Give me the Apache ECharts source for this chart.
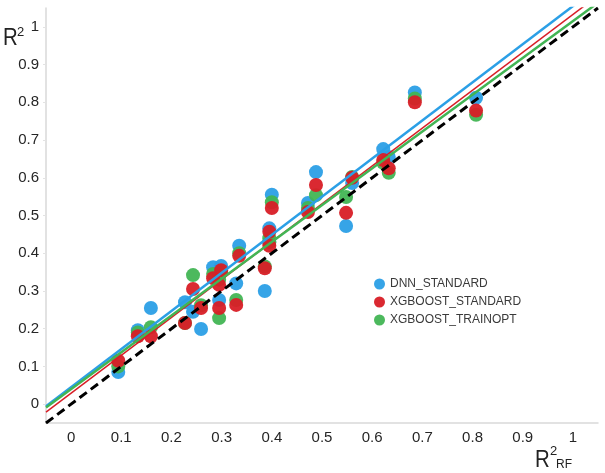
<!DOCTYPE html>
<html>
<head>
<meta charset="utf-8">
<script src="https://cdn.jsdelivr.net/npm/echarts@6/dist/echarts.min.js"></script>
<style>
html,body{margin:0;padding:0;background:#fff;}
#chart{width:605px;height:473px;}
</style>
</head>
<body>
<div id="chart"></div>
<script>
// RF R² (x) shared by all models
const rfR2 = [0.094,0.133,0.159,0.227,0.243,0.259,0.283,0.299,0.295,0.295,0.329,0.335,0.386,0.400,0.395,0.395,0.472,0.488,0.548,0.560,0.622,0.633,0.685,0.807];
const dnnStandard = [0.085,0.196,0.255,0.270,0.245,0.199,0.363,0.366,0.276,0.345,0.320,0.420,0.300,0.555,0.466,0.430,0.533,0.615,0.472,0.586,0.676,0.655,0.826,0.812];
const xgbStandard = [0.115,0.180,0.180,0.215,0.305,0.255,0.334,0.355,0.255,0.316,0.263,0.393,0.360,0.520,0.457,0.420,0.509,0.581,0.507,0.600,0.647,0.625,0.800,0.778];
const xgbTrainopt = [0.100,0.190,0.204,0.215,0.342,0.262,0.345,0.350,0.228,0.330,0.276,0.400,0.365,0.535,0.440,0.430,0.520,0.554,0.549,0.602,0.640,0.613,0.810,0.767];
// fitted lines (end points)
const lineX = [-0.05, 1.05];
const dnnFit = [-0.0055, 1.1055];
const xgbStdFit = [-0.021, 1.083];
const xgbTrainFit = [-0.009, 1.064];
const identity = [-0.05, 1.05];
// tick labels
const tickValues = [0,0.1,0.2,0.3,0.4,0.5,0.6,0.7,0.8,0.9,1];
const seriesNames = ['DNN_STANDARD','XGBOOST_STANDARD','XGBOOST_TRAINOPT'];

const colors = {blue:'#2b9fe6', red:'#d81e26', green:'#42b554'};
const pts = (ys) => rfR2.map((x,i)=>[x, ys[i]]);
const ln = (ys) => lineX.map((x,i)=>[x, ys[i]]);
const fmt = v => (Math.abs(v) < 1e-9 ? '0' : String(Math.round(v*10)/10));
const FF = 'Liberation Sans, Arial';

const chart = echarts.init(document.getElementById('chart'));
const axisCommon = {
  type:'value', min:-0.05, max:1.05,
  splitLine:{show:false},
  axisLine:{show:true, onZero:false, lineStyle:{color:'#d9d9d9', width:1.5}},
  axisLabel:{customValues:tickValues, formatter:fmt, color:'#262626', fontSize:15, fontFamily:FF}
};
chart.setOption({
  animation:false,
  backgroundColor:'#fff',
  grid:{left:46, right:7, top:8, bottom:50},
  xAxis: Object.assign({}, axisCommon, {
    axisTick:{show:false},
    axisLabel:Object.assign({}, axisCommon.axisLabel, {margin:7})
  }),
  yAxis: Object.assign({}, axisCommon, {
    axisTick:{show:true, customValues:tickValues, length:3, lineStyle:{color:'#e3e3e3'}},
    axisLabel:Object.assign({}, axisCommon.axisLabel, {margin:7})
  }),
  legend:{
    data:seriesNames, orient:'vertical', left:374, top:278, padding:0,
    itemWidth:11, itemHeight:11, itemGap:6, icon:'circle',
    textStyle:{fontSize:12, color:'#3a3a3a', fontFamily:FF}
  },
  graphic:[
    {type:'text', left:3, top:26, scaleX:0.85, style:{text:'R', fontSize:24, fill:'#222', fontFamily:FF}},
    {type:'text', left:17, top:26, style:{text:'2', fontSize:13, fill:'#222', fontFamily:FF}},
    {type:'text', left:535, top:448, scaleX:0.85, style:{text:'R', fontSize:24, fill:'#222', fontFamily:FF}},
    {type:'text', left:550, top:445, style:{text:'2', fontSize:13, fill:'#222', fontFamily:FF}},
    {type:'text', left:556, top:459, style:{text:'RF', fontSize:12, fill:'#222', fontFamily:FF}}
  ],
  series:[
    {name:seriesNames[0], type:'scatter', data:pts(dnnStandard), symbolSize:14, itemStyle:{color:colors.blue, opacity:0.95}, z:2},
    {name:seriesNames[2], type:'scatter', data:pts(xgbTrainopt), symbolSize:14, itemStyle:{color:colors.green, opacity:0.95}, z:3},
    {name:seriesNames[1], type:'scatter', data:pts(xgbStandard), symbolSize:14, itemStyle:{color:colors.red, opacity:0.95}, z:4},
    {name:'fit_dnn', type:'line', data:ln(dnnFit), symbol:'none', lineStyle:{color:colors.blue, width:2.5}, z:6, silent:true},
    {name:'fit_xgb_std', type:'line', data:ln(xgbStdFit), symbol:'none', lineStyle:{color:colors.red, width:1.5}, z:6, silent:true},
    {name:'fit_xgb_train', type:'line', data:ln(xgbTrainFit), symbol:'none', lineStyle:{color:colors.green, width:2.5}, z:6, silent:true},
    {name:'identity', type:'line', data:ln(identity), symbol:'none', lineStyle:{color:'#000', width:3, type:[9,5]}, z:7, silent:true}
  ]
});
</script>
</body>
</html>
